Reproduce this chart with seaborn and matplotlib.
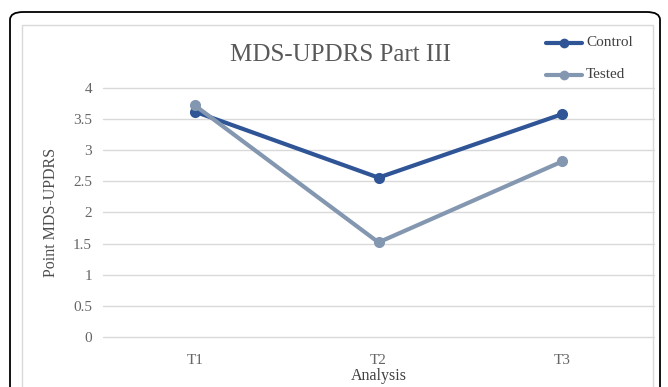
import pandas as pd
import seaborn as sns
import matplotlib.pyplot as plt
from matplotlib.patches import FancyBboxPatch, Rectangle

# values
times = ['T1', 'T2', 'T3']
control = [3.62, 2.56, 3.58]
tested = [3.72, 1.52, 2.82]
yticks = [0, 0.5, 1, 1.5, 2, 2.5, 3, 3.5, 4]

df = pd.DataFrame({
    'Analysis': times * 2,
    'score': control + tested,
    'group': ['Control'] * 3 + ['Tested'] * 3,
})

sns.set_theme(style='white')
plt.rcParams['font.family'] = ['Liberation Serif', 'DejaVu Serif']

fig = plt.figure(figsize=(6.68, 3.87), dpi=100)
W, H = 668, 387

# outer black rounded frame and inner grey chart-area frame
fig.patches.append(FancyBboxPatch((10 / W, -0.1), 650 / W, (H - 12) / H + 0.1,
                                  boxstyle='round,pad=0,rounding_size=0.02',
                                  transform=fig.transFigure, fill=False,
                                  edgecolor='black', linewidth=1.3))
fig.patches.append(Rectangle((22 / W, -0.1), 631 / W, (H - 25) / H + 0.1,
                             transform=fig.transFigure, fill=False,
                             edgecolor='#d9d9d9', linewidth=1))

ax = fig.add_axes([103 / W, 1 - 337 / H, 551 / W, 249 / H])
ax.set_facecolor('none')

palette = {'Control': '#2f5597', 'Tested': '#8497b0'}
sns.lineplot(data=df, x='Analysis', y='score', hue='group', palette=palette,
             marker='o', markersize=8, markeredgewidth=0, linewidth=3,
             sort=False, ax=ax, legend=False)

ax.set_ylim(0, 4)
ax.set_xlim(-0.5, 2.5)
ax.set_yticks(yticks)
ax.set_yticklabels(['0', '0.5', '1', '1.5', '2', '2.5', '3', '3.5', '4'])
ax.grid(axis='y', color='#d9d9d9', linewidth=1)
for g in ax.get_ygridlines():
    g.set_clip_on(False)
ax.set_axisbelow(True)
for s in ax.spines.values():
    s.set_visible(False)
ax.tick_params(axis='both', length=0, labelsize=11, colors='#666666', pad=8)
ax.tick_params(axis='x', pad=12)

ax.set_xlabel('Analysis', fontsize=11.5, color='#404040', labelpad=1)
ax.set_ylabel('Point MDS-UPDRS', fontsize=11.5, color='#4d4d4d', labelpad=10)

fig.text(340 / W, 1 - 55 / H, 'MDS-UPDRS Part III', ha='center', va='center',
         fontsize=18, color='#595959')

# legend drawn by hand in figure coords, top right
for i, (name, col) in enumerate(palette.items()):
    y = 1 - (43 + 32 * i) / H
    fig.add_artist(plt.Line2D([546 / W, 582 / W], [y, y], color=col,
                              linewidth=3, transform=fig.transFigure))
    fig.add_artist(plt.Line2D([564 / W], [y], color=col, marker='o',
                              markersize=7, markeredgewidth=0,
                              transform=fig.transFigure))
    fig.text(586 / W, y, name, ha='left', va='center', fontsize=11,
             color='#404040')

fig.savefig('out.png', dpi=100)
